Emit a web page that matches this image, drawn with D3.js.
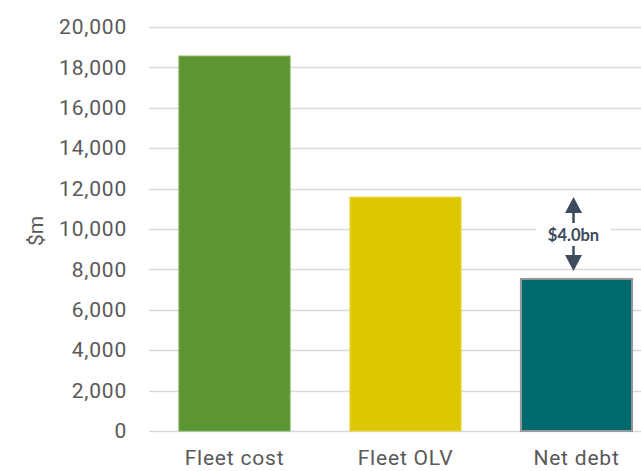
<!DOCTYPE html>
<html><head><meta charset="utf-8">
<script src="https://cdn.jsdelivr.net/npm/d3@7"></script>
<style>body{margin:0;background:#fff;overflow:hidden}svg{display:block}</style>
</head><body>
<svg id="c" width="641" height="471"></svg>
<script>
const categories = ["Fleet cost", "Fleet OLV", "Net debt"];
const values = [18560, 11580, 7530];
const barColors = ["#5B9632", "#DCC800", "#006A6E"];
const barStrokes = ["#7FAE55", "#E6D640", "#999999"];
const yTicks = [0, 2000, 4000, 6000, 8000, 10000, 12000, 14000, 16000, 18000, 20000];
const annotationText = "$4.0bn";

const svg = d3.select("#c");
const x = d3.scaleBand().domain(categories).range([149, 662]).paddingInner(0.35).paddingOuter(0.175);
const y = d3.scaleLinear().domain([0, 20000]).range([431, 27]);

// gridlines
svg.append("g").selectAll("line").data(yTicks).join("line")
  .attr("x1", 149).attr("x2", 641)
  .attr("y1", d => Math.round(y(d)) + 0.5).attr("y2", d => Math.round(y(d)) + 0.5)
  .attr("stroke", "#D9D9D9").attr("stroke-width", 1.5);

// y axis
const yAxis = d3.axisLeft(y).tickValues(yTicks).tickFormat(d3.format(",")).tickSize(0).tickPadding(0);
const ga = svg.append("g").attr("transform", "translate(127,0)").call(yAxis);
ga.select(".domain").remove();
ga.selectAll("text").attr("font-family", "Roboto, sans-serif").attr("font-size", 21)
  .attr("letter-spacing", "0.8px").attr("fill", "#595959");

// bars
svg.append("g").selectAll("rect").data(values).join("rect")
  .attr("x", (d, i) => x(categories[i]))
  .attr("y", d => y(d))
  .attr("width", x.bandwidth())
  .attr("height", d => y(0) - y(d))
  .attr("fill", (d, i) => barColors[i])
  .attr("stroke", (d, i) => barStrokes[i])
  .attr("stroke-width", (d, i) => i === 2 ? 2 : 1);

// x axis labels
const xAxis = d3.axisBottom(x).tickSize(0).tickPadding(0);
const gx = svg.append("g").attr("transform", "translate(0,465)").call(xAxis);
gx.select(".domain").remove();
gx.selectAll("text").attr("font-family", "Roboto, sans-serif").attr("font-size", 21)
  .attr("letter-spacing", "0.8px").attr("fill", "#595959").attr("dy", 0).attr("y", 0);

// y label
svg.append("text").attr("transform", "translate(43,231) rotate(-90)")
  .attr("text-anchor", "middle").attr("font-family", "Roboto, sans-serif").attr("font-size", 21).attr("fill", "#595959").text("$m");

// annotation
const ax = x("Net debt") + x.bandwidth() / 2 - 3;
const topY = y(values[1]);
const botY = y(values[2]) - 8;
const midY = (y(values[1]) + y(values[2])) / 2 - 3;
const col = "#3D4B5C";
svg.append("rect").attr("x", ax - 37).attr("y", midY - 11).attr("width", 74).attr("height", 22).attr("fill", "#fff");
svg.append("text").attr("x", ax).attr("y", midY).attr("dy", "0.35em").attr("text-anchor", "middle")
  .attr("font-family", "Lato, sans-serif").attr("font-weight", "bold").attr("font-size", 16.5).attr("fill", col).text(annotationText);
// up arrow
svg.append("line").attr("x1", ax).attr("x2", ax).attr("y1", topY + 14).attr("y2", midY - 12).attr("stroke", col).attr("stroke-width", 2.5);
svg.append("path").attr("d", `M${ax},${topY} L${ax - 8.5},${topY + 16} L${ax + 8.5},${topY + 16} Z`).attr("fill", col);
// down arrow
svg.append("line").attr("x1", ax).attr("x2", ax).attr("y1", midY + 11).attr("y2", botY - 14).attr("stroke", col).attr("stroke-width", 2.5);
svg.append("path").attr("d", `M${ax},${botY} L${ax - 8.5},${botY - 16} L${ax + 8.5},${botY - 16} Z`).attr("fill", col);
</script>
</body></html>
